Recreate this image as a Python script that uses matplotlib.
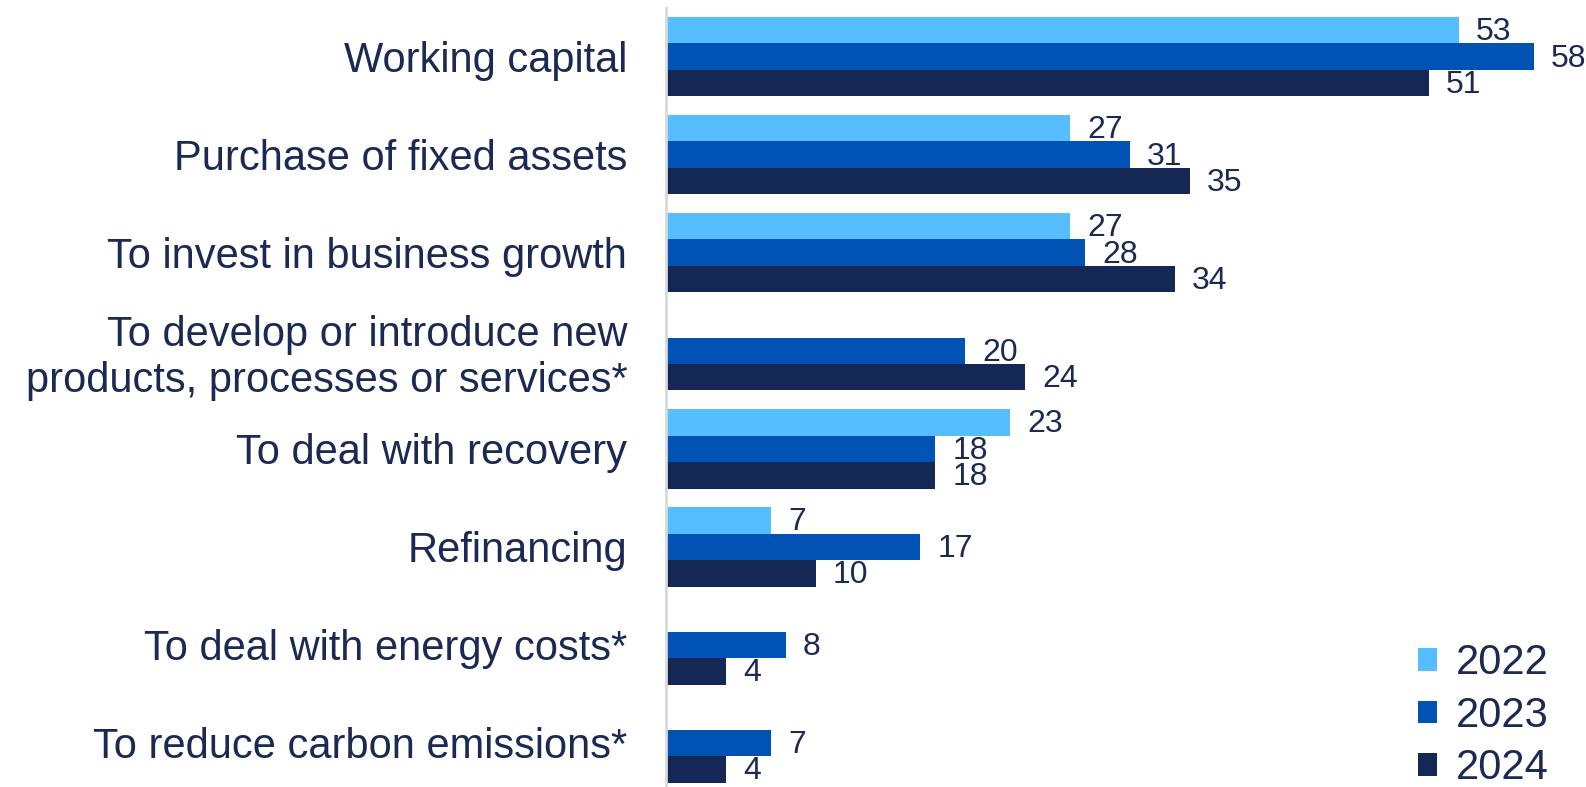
import numpy as np
import matplotlib.pyplot as plt

plt.rcParams['font.family'] = ['Liberation Sans', 'DejaVu Sans']

# Reasons for seeking finance, % of firms
categories = ['Working capital', 'Purchase of fixed assets', 'To invest in business growth',
              'To develop or introduce new\nproducts, processes or services*',
              'To deal with recovery', 'Refinancing', 'To deal with energy costs*',
              'To reduce carbon emissions*']
years = ['2022', '2023', '2024']
v2022 = [53, 27, 27, None, 23, 7, None, None]
v2023 = [58, 31, 28, 20, 18, 17, 8, 7]
v2024 = [51, 35, 34, 24, 18, 10, 4, 4]
colors = ['#56BEFF', '#0052B4', '#152855']
text_col = '#1B2A55'

fig = plt.figure(figsize=(15.86, 7.87), dpi=100)
ax = fig.add_axes([0.42, 0.0, 0.58, 0.9898])

y = np.arange(len(categories))
h = 0.27
for k, (vals, c, lab) in enumerate(zip([v2022, v2023, v2024], colors, years)):
    ys = y + (k - 1) * h
    for yi, v in zip(ys, vals):
        if v is None:
            continue
        ax.barh(yi, v, height=h, color=c)
        ax.text(v + 1.15, yi + 0.02, str(v), va='center', ha='left',
                fontsize=23, color=text_col)
    ax.barh(np.nan, 0, color=c, label=lab)

ax.set_xlim(0, 61.5)
ax.set_ylim(7.449, -0.495)
ax.set_yticks(y)
ax.set_yticklabels(categories, fontsize=30, color=text_col, linespacing=1.2)
ax.tick_params(axis='y', length=0, pad=28)
ax.set_xticks([])
for s in ['top', 'right', 'bottom']:
    ax.spines[s].set_visible(False)
ax.spines['left'].set_color('#D9D9D9')
ax.spines['left'].set_linewidth(2)

leg = ax.legend(loc='lower right', bbox_to_anchor=(1.0, -0.05), frameon=False,
                fontsize=30, handlelength=0.45, handleheight=0.45,
                handletextpad=0.45, labelspacing=0.3)
for t in leg.get_texts():
    t.set_color(text_col)

fig.savefig('out.png', dpi=100)
